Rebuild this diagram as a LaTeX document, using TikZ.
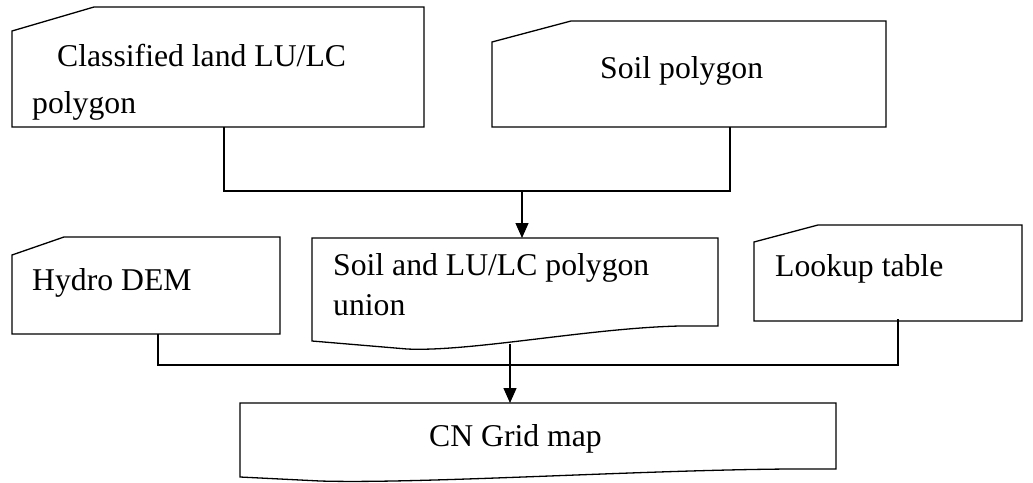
\documentclass[tikz,border=0pt]{standalone}
\usepackage{fontspec}
\setmainfont{Liberation Serif}
\usetikzlibrary{arrows.meta}
\begin{document}
\begin{tikzpicture}[x=1pt,y=-1pt,
  boxline/.style={line width=1.3pt, line join=miter},
  conn/.style={line width=1.3pt},
  arr/.style={line width=1.3pt, -{Triangle[length=15pt,width=13pt]}},
  txt/.style={inner sep=0pt, anchor=base west, font=\fontsize{31.7}{38}\selectfont}]
\useasboundingbox (0,0) rectangle (1033,482);
% shapes
\draw[boxline] (12,31) -- (94,7) -- (424,7) -- (424,127) -- (12,127) -- cycle;
\draw[boxline] (492,42) -- (571,21) -- (886,21) -- (886,127) -- (492,127) -- cycle;
\draw[boxline] (12,255) -- (64,237) -- (280,237) -- (280,334) -- (12,334) -- cycle;
\draw[boxline] (312,238) -- (718,238) -- (718,326) -- (680,326)
   .. controls (590,328) and (470,352) .. (407,349) -- (312,341) -- cycle;
\draw[boxline] (754,242) -- (818,225) -- (1022,225) -- (1022,321) -- (754,321) -- cycle;
\draw[boxline] (240,403) -- (836,403) -- (836,469) -- (790,469)
   .. controls (640,470) and (420,484) .. (320,481) -- (240,477) -- cycle;
% texts
\node[txt] (t1a) at (57,66) {Classified land LU/LC};
\node[txt] (t1b) at (32,113) {polygon};
\node[txt] (t2) at (600,78) {Soil polygon};
\node[txt] (t3) at (32,290) {Hydro DEM};
\node[txt] (t4a) at (333,275) {Soil and LU/LC polygon};
\node[txt] (t4b) at (333,315) {union};
\node[txt] (t5) at (775,276) {Lookup table};
\node[txt] (t6) at (429,446) {CN Grid map};
% connector points
\coordinate (c1) at (224,127);
\coordinate (c2) at (730,127);
\coordinate (j1) at (522,191);
\coordinate (u1) at (522,238);
\coordinate (c3) at (158,334);
\coordinate (c5) at (898,319);
\coordinate (j2) at (898,365);
\coordinate (u2) at (510,344);
\coordinate (cn) at (510,403);
% connectors
\draw[conn] (c1) |- (j1) -| (c2);
\draw[arr] (j1) -- (u1);
\draw[conn] (c3) |- (j2) -- (c5);
\draw[arr] (u2) -- (cn);
\end{tikzpicture}
\end{document}
